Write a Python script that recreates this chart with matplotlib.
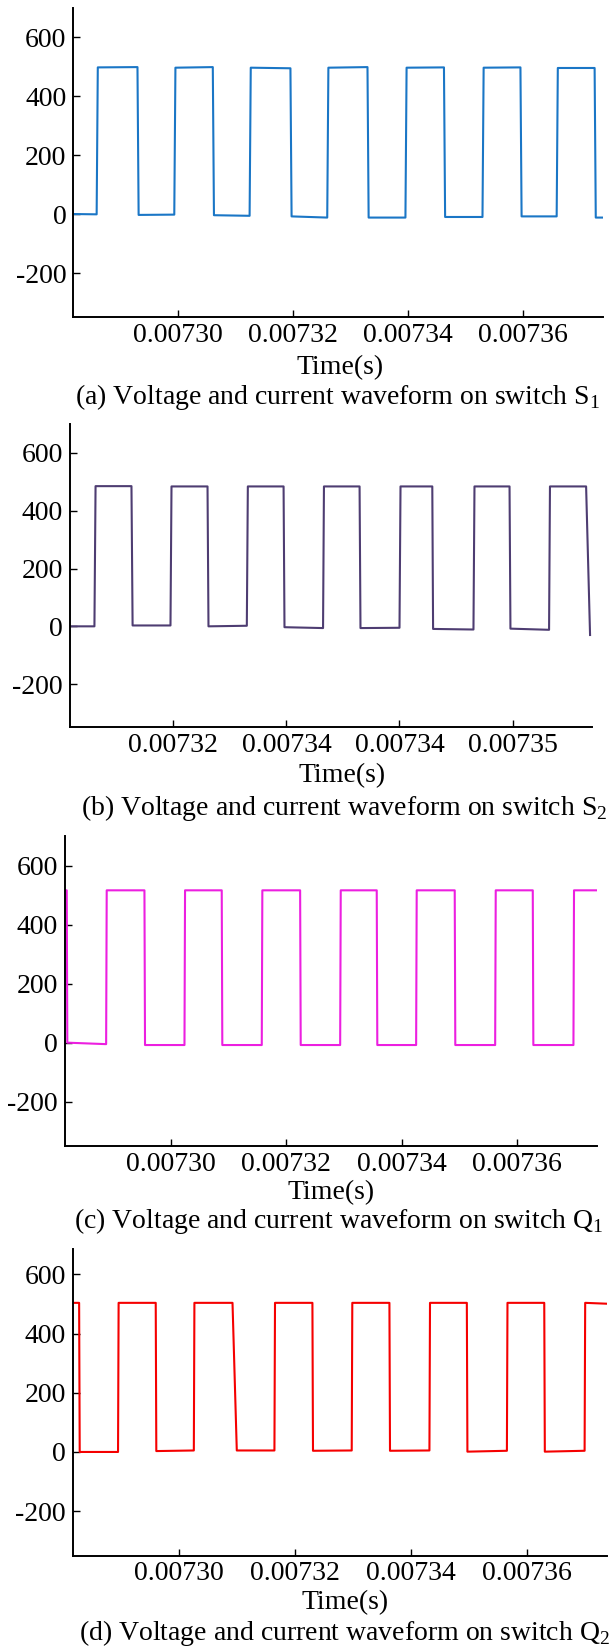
import matplotlib
matplotlib.use('Agg')
import matplotlib.pyplot as plt

plt.rcParams['font.family'] = ['Liberation Serif']
plt.rcParams['mathtext.fontset'] = 'custom'
plt.rcParams['mathtext.rm'] = 'Liberation Serif'
plt.rcParams['axes.unicode_minus'] = False

# switch voltage waveforms, time in ms (converted to s below)
t_a = [7.28174, 7.28580, 7.28600, 7.29290, 7.29310, 7.29930, 7.29950, 7.30600, 7.30620, 7.31240,
       7.31260, 7.31950, 7.31970, 7.32590, 7.32610, 7.33290, 7.33310, 7.33950, 7.33970, 7.34620,
       7.34640, 7.35290, 7.35310, 7.35950, 7.35970, 7.36580, 7.36600, 7.37240, 7.37260, 7.37370]
v_a = [0, -1, 497, 498, -3, -2, 496, 498, -4, -6,
       496, 494, -8, -12, 496, 498, -12, -12, 496, 497,
       -10, -10, 496, 497, -8, -8, 495, 495, -12, -12]

t_b = [7.30173, 7.30605, 7.30625, 7.31260, 7.31280, 7.31950, 7.31968, 7.32605, 7.32622, 7.33300,
       7.33318, 7.33950, 7.33966, 7.34648, 7.34664, 7.35294, 7.35310, 7.36000, 7.36018, 7.36580,
       7.36594, 7.37308, 7.37326, 7.37946, 7.37962, 7.38645, 7.38661, 7.39300, 7.39370]
v_b = [0, 0, 485, 485, 3, 3, 484, 484, 0, 2,
       484, 484, -3, -6, 484, 484, -6, -5, 484, 484,
       -9, -11, 484, 484, -8, -12, 484, 484, -30]

t_c = [7.28170, 7.28200, 7.28210, 7.28882, 7.28892, 7.29545, 7.29555, 7.30238, 7.30248, 7.30883,
       7.30893, 7.31576, 7.31586, 7.32240, 7.32250, 7.32933, 7.32943, 7.33566, 7.33576, 7.34248,
       7.34258, 7.34916, 7.34926, 7.35616, 7.35626, 7.36267, 7.36277, 7.36971, 7.36981, 7.37384]
v_c = [516, 516, 0, -5, 516, 516, -8, -8, 516, 516,
       -8, -8, 516, 516, -8, -8, 516, 516, -8, -8,
       516, 516, -8, -8, 516, 516, -8, -8, 516, 516]

t_d = [7.28159, 7.28270, 7.28280, 7.28942, 7.28952, 7.29593, 7.29603, 7.30251, 7.30261, 7.30919,
       7.30993, 7.31643, 7.31653, 7.32299, 7.32309, 7.32978, 7.32988, 7.33629, 7.33639, 7.34320,
       7.34330, 7.34966, 7.34976, 7.35658, 7.35668, 7.36303, 7.36313, 7.37000, 7.37010, 7.37392]
v_d = [504, 504, 0, 0, 504, 504, 3, 5, 504, 504,
       5, 5, 504, 504, 4, 5, 504, 504, 4, 5,
       504, 504, 1, 4, 504, 504, 1, 4, 504, 501]

y_ticks = [-200, 0, 200, 400, 600]
y_labels = ['-200', '0', '200', '400', '600']
x_ticks_std = [7.30, 7.32, 7.34, 7.36]
x_labels_std = ['0.00730', '0.00732', '0.00734', '0.00736']
x_ticks_b = [7.32, 7.34, 7.36, 7.38]
x_labels_b = ['0.00732', '0.00734', '0.00734', '0.00735']

captions = ['(a) Voltage and current waveform on switch S$_\\mathrm{1}$',
            '(b) Voltage and current waveform on switch S$_\\mathrm{2}$',
            '(c) Voltage and current waveform on switch Q$_\\mathrm{1}$',
            '(d) Voltage and current waveform on switch Q$_\\mathrm{2}$']

W, H = 616, 1648
FS = 20
fig = plt.figure(figsize=(W / 100, H / 100), dpi=100)

# axes box in pixels (left, right, top, bottom), limits, ticks, colour,
# (x, y) of the "Time(s)" label and of the caption
panels = [
    (t_a, v_a, (73.3, 603.3, 7.5, 317.3), (7.28174, 7.37391), (-350, 700), x_ticks_std, x_labels_std, '#1a76c6', (340, 368), (337, 397), captions[0]),
    (t_b, v_b, (70.0, 591.7, 424.0, 727.5), (7.30173, 7.39399), (-350, 700), x_ticks_b, x_labels_b, '#4e3d72', (342, 776), (344, 808), captions[1]),
    (t_c, v_c, (65.0, 597.3, 836.0, 1146.0), (7.28170, 7.37384), (-350, 700), x_ticks_std, x_labels_std, '#ec1fe0', (331, 1193), (339, 1221), captions[2]),
    (t_d, v_d, (72.7, 607.3, 1249.3, 1555.5), (7.28159, 7.37392), (-350, 685), x_ticks_std, x_labels_std, '#f50000', (345, 1603), (345, 1633), captions[3]),
]

for t, v, (l, r, top, bot), xl, yl, xt, xtl, col, lab_xy, cap_xy, cap in panels:
    ax = fig.add_axes([l / W, 1 - bot / H, (r - l) / W, (bot - top) / H])
    ax.plot([x * 1e-3 for x in t], v, color=col, lw=1.5)
    ax.set_xlim(xl[0] * 1e-3, xl[1] * 1e-3)
    ax.set_ylim(*yl)
    ax.set_yticks(y_ticks)
    ax.set_yticklabels(y_labels)
    ax.set_xticks([x * 1e-3 for x in xt])
    ax.set_xticklabels(xtl)
    for s in ['top', 'right']:
        ax.spines[s].set_visible(False)
    for s in ['left', 'bottom']:
        ax.spines[s].set_linewidth(1.4)
    ax.tick_params(direction='in', length=5, width=1.0, labelsize=FS)
    ax.tick_params(axis='x', pad=4)
    ax.tick_params(axis='y', pad=5)
    fig.text(lab_xy[0] / W, 1 - lab_xy[1] / H, 'Time(s)', ha='center', va='center', fontsize=FS)
    fig.text(cap_xy[0] / W, 1 - cap_xy[1] / H, cap, ha='center', va='center', fontsize=FS)

fig.savefig('out.png', dpi=100)
